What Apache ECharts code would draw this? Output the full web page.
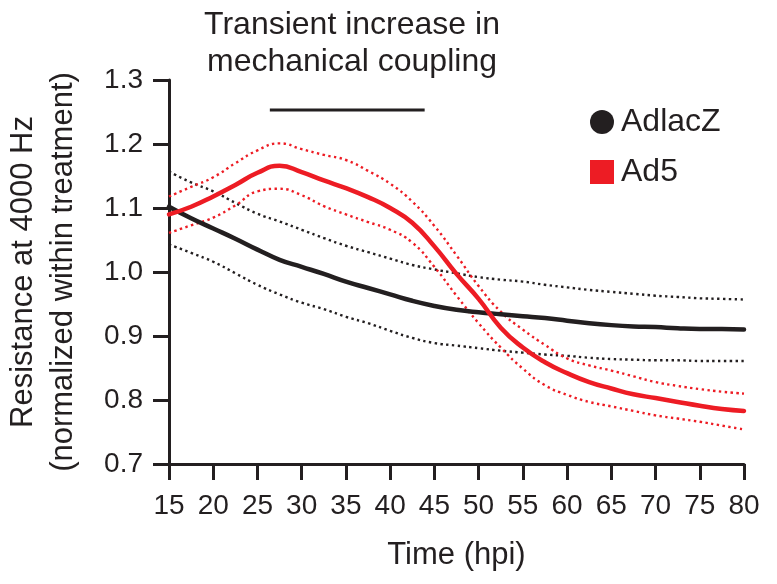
<!DOCTYPE html>
<html>
<head>
<meta charset="utf-8">
<title>Resistance at 4000 Hz</title>
<script src="https://cdn.jsdelivr.net/npm/echarts@6/dist/echarts.min.js"></script>
<style>
  html, body { margin: 0; padding: 0; background: #fff; }
  #chartResistance { width: 777px; height: 584px; }
</style>
</head>
<body>
<div id="chartResistance"></div>
<script>
(function() {
  /** Data */
  var hours = [15, 17.5, 20, 22.5, 25, 27.5, 30, 32.5, 35, 37.5, 40, 42.5, 45, 47.5,
    50, 52.5, 55, 57.5, 60, 62.5, 65, 67.5, 70, 72.5, 75, 77.5, 80];

  var adlacZ = [1.102, 1.084, 1.068, 1.052, 1.035, 1.019, 1.008, 0.997, 0.985, 0.975,
    0.965, 0.955, 0.947, 0.941, 0.937, 0.934, 0.931, 0.928, 0.924, 0.920, 0.917,
    0.915, 0.914, 0.912, 0.911, 0.911, 0.910];
  var adlacZUpper = [1.157, 1.140, 1.126, 1.108, 1.091, 1.079, 1.066, 1.053, 1.041, 1.031,
    1.021, 1.011, 1.004, 0.998, 0.992, 0.988, 0.985, 0.980, 0.976, 0.972, 0.969,
    0.966, 0.963, 0.961, 0.959, 0.958, 0.957];
  var adlacZLower = [1.043, 1.030, 1.016, 0.998, 0.980, 0.965, 0.952, 0.942, 0.930, 0.920,
    0.908, 0.897, 0.889, 0.885, 0.881, 0.877, 0.874, 0.871, 0.869, 0.866, 0.864,
    0.863, 0.862, 0.862, 0.861, 0.861, 0.861];

  var ad5 = [1.090, 1.102, 1.118, 1.136, 1.155, 1.166, 1.156, 1.143, 1.131, 1.117,
    1.100, 1.077, 1.040, 0.997, 0.958, 0.913, 0.882, 0.859, 0.842, 0.828, 0.818,
    0.809, 0.803, 0.797, 0.791, 0.786, 0.783];
  var ad5Upper = [1.118, 1.133, 1.148, 1.170, 1.190, 1.201, 1.192, 1.183, 1.175, 1.158,
    1.138, 1.110, 1.072, 1.026, 0.978, 0.938, 0.910, 0.886, 0.865, 0.854, 0.846,
    0.837, 0.828, 0.822, 0.817, 0.813, 0.810];
  var ad5Lower = [1.061, 1.073, 1.085, 1.104, 1.126, 1.130, 1.120, 1.103, 1.090, 1.078,
    1.066, 1.046, 1.008, 0.963, 0.920, 0.882, 0.849, 0.823, 0.808, 0.797, 0.790,
    0.783, 0.776, 0.771, 0.766, 0.760, 0.754];

  // window of the transient increase (hpi) and where the bar sits
  var spanHours = [26.4, 43.9];
  var spanLevel = 1.253;

  var xTicks = { min: 15, max: 80, interval: 5 };
  var yTicks = { min: 0.7, max: 1.3, interval: 0.1 };

  /** Helpers */
  var INK = '#231f20';
  var RED = '#ed1c24';
  var FONT = '"Liberation Sans", Arial, Helvetica, sans-serif';

  function pairs(values) {
    return hours.map(function(h, i) { return [h, values[i]]; });
  }

  function curve(name, values, color, dotted) {
    return {
      name: name,
      type: 'line',
      data: pairs(values),
      symbol: 'none',
      smooth: 0.5,
      z: dotted ? 2 : 3,
      lineStyle: {
        color: color,
        width: dotted ? 2.4 : 4.5,
        type: dotted ? [2.4, 3.4] : 'solid',
        cap: dotted ? 'butt' : 'round',
        join: 'round'
      },
      itemStyle: { color: color },
      silent: true
    };
  }

  /** Chart */
  var option = {
    animation: false,
    backgroundColor: '#fff',
    textStyle: { fontFamily: FONT, color: INK },
    title: {
      text: 'Transient increase in\nmechanical coupling',
      left: 347,
      top: 2,
      textAlign: 'center',
      textStyle: {
        fontFamily: FONT,
        fontSize: 32,
        fontWeight: 'normal',
        color: INK,
        lineHeight: 37
      }
    },
    legend: {
      orient: 'vertical',
      left: 585,
      top: 101,
      itemWidth: 24,
      itemHeight: 24,
      itemGap: 18,
      textStyle: { fontFamily: FONT, fontSize: 32, color: INK, lineHeight: 32, padding: [0, 0, 0, 2] },
      data: [
        { name: 'AdlacZ', icon: 'circle' },
        { name: 'Ad5', icon: 'rect' }
      ]
    },
    grid: {
      left: 169,
      right: 33,
      top: 80,
      bottom: 120,
      containLabel: false,
      outerBoundsMode: 'none'
    },
    xAxis: {
      type: 'value',
      min: xTicks.min,
      max: xTicks.max,
      interval: xTicks.interval,
      name: 'Time (hpi)',
      nameLocation: 'middle',
      nameGap: 76,
      nameTextStyle: { fontFamily: FONT, fontSize: 31, color: INK },
      axisLine: { show: true, lineStyle: { color: INK, width: 3 } },
      axisTick: { show: true, length: 16, lineStyle: { color: INK, width: 3 } },
      axisLabel: { fontFamily: FONT, fontSize: 28, color: INK, margin: 28 },
      splitLine: { show: false }
    },
    yAxis: {
      type: 'value',
      min: yTicks.min,
      max: yTicks.max,
      interval: yTicks.interval,
      name: 'Resistance at 4000 Hz\n(normalized within treatment)',
      nameLocation: 'middle',
      nameRotate: 90,
      nameGap: 86,
      nameTextStyle: { fontFamily: FONT, fontSize: 31, color: INK, lineHeight: 40 },
      axisLine: { show: true, lineStyle: { color: INK, width: 3 } },
      axisTick: { show: true, length: 16, lineStyle: { color: INK, width: 3 } },
      axisLabel: {
        fontFamily: FONT,
        fontSize: 28,
        color: INK,
        margin: 26,
        formatter: function(v) { return v.toFixed(1); }
      },
      splitLine: { show: false }
    },
    series: [
      curve('AdlacZ upper', adlacZUpper, INK, true),
      curve('AdlacZ lower', adlacZLower, INK, true),
      curve('Ad5 upper', ad5Upper, RED, true),
      curve('Ad5 lower', ad5Lower, RED, true),
      curve('AdlacZ', adlacZ, INK, false),
      curve('Ad5', ad5, RED, false),
      {
        name: 'transient window',
        type: 'line',
        data: spanHours.map(function(h) { return [h, spanLevel]; }),
        symbol: 'none',
        lineStyle: { color: INK, width: 3 },
        silent: true
      }
    ]
  };

  echarts.init(document.getElementById('chartResistance')).setOption(option);
})();
</script>
</body>
</html>
